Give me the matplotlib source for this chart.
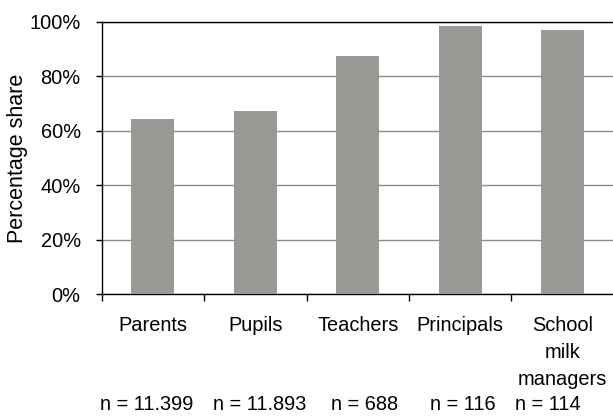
import matplotlib
matplotlib.use("Agg")
import matplotlib.pyplot as plt
from matplotlib.ticker import FixedLocator, FuncFormatter

plt.rcParams['font.family'] = ['Liberation Sans', 'DejaVu Sans']

categories = ["Parents", "Pupils", "Teachers", "Principals", "School\nmilk\nmanagers"]
shares = [64.3, 67.2, 87.3, 98.3, 96.8]
sample_sizes = ["n = 11.399", "n = 11.893", "n = 688", "n = 116", "n = 114"]
y_ticks = [0, 20, 40, 60, 80, 100]

# horizontal nudges (points) for the sample-size row
n_label_shift = [-4.3, 2.9, 5.0, 2.2, -10.8]

FS = 14.4
W, H = 613, 416
fig = plt.figure(figsize=(W / 100, H / 100), dpi=100)
left, right, top, bottom = 101.5, 614, 21.5, 294.3
ax = fig.add_axes([left / W, (H - bottom) / H, (right - left) / W, (bottom - top) / H])

x = list(range(len(categories)))
ax.bar(x, shares, width=0.415, color="#9a9995", zorder=3)

ax.set_xlim(-0.5, len(categories) - 0.5)
ax.set_ylim(0, 100)

# horizontal gridlines
ax.yaxis.set_major_locator(FixedLocator(y_ticks))
ax.yaxis.set_major_formatter(FuncFormatter(lambda v, p: f"{int(v)}%"))
ax.grid(axis="y", color="#8a8a8a", linewidth=1.0, zorder=0)
ax.set_axisbelow(True)

for s in ["left", "bottom", "top"]:
    ax.spines[s].set_color("black")
    ax.spines[s].set_linewidth(1.0)
ax.spines["right"].set_visible(False)

ax.tick_params(axis="y", direction="out", length=4.5, width=1, labelsize=FS, pad=10.5, colors="black")

# ticks at category boundaries
ax.set_xticks([i - 0.5 for i in range(len(categories) + 1)])
ax.set_xticklabels([])
ax.tick_params(axis="x", direction="out", length=5, width=1)

# category names and sample sizes under each bar
for xi, name, n, dx in zip(x, categories, sample_sizes, n_label_shift):
    ax.annotate(name, xy=(xi, 0), xycoords=("data", "axes fraction"),
                xytext=(0, -15.6), textcoords="offset points",
                ha="center", va="top", fontsize=FS, linespacing=1.55)
    ax.annotate(n, xy=(xi, 0), xycoords=("data", "axes fraction"),
                xytext=(dx, -72.3), textcoords="offset points",
                ha="center", va="top", fontsize=FS)

ax.set_ylabel("Percentage share", fontsize=15.5, labelpad=1.0)

fig.savefig("out.png", dpi=100)
